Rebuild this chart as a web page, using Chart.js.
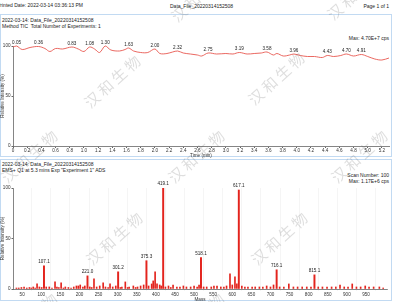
<!DOCTYPE html>
<html>
<head>
<meta charset='utf-8'>
<title>TIC and mass spectrum</title>
<script src="https://cdn.jsdelivr.net/npm/chart.js@4.4.1/dist/chart.umd.min.js"></script>
<style>
    body { margin:0; width:397px; height:302px; position:relative; overflow:hidden; background:#fff;
           font-family:"Liberation Sans", Arial, sans-serif; color:#222; }
    .t { position:absolute; font-size:5px; line-height:6px; white-space:nowrap; }
    .r { right:8px; text-align:right; }
    .panel { position:absolute; border:1px solid #c2daf2; box-sizing:border-box; }
    canvas { position:absolute; left:0; }
    .wm { position:absolute; font-family:"Noto Sans CJK SC"; font-size:15px; letter-spacing:3px;
          color:rgba(90,90,90,0.2); transform:translate(-50%,-50%) rotate(-42deg); white-space:nowrap; }
</style>
</head>
<body>
<div class="t" style="left:-3px;top:2px">Printed Date: 2022-03-14 03:36:13 PM</div>
<div class="t" style="left:170px;top:3px">Data_File_20220314152508</div>
<div class="t r" style="top:3px">Page 1 of 1</div>

<div class="panel" style="left:0;top:14px;width:392px;height:143px"></div>
<div class="t" style="left:2px;top:17px">2022-03-14: Data_File_20220314152508</div>
<div class="t" style="left:2px;top:23px">Method TIC&nbsp; Total Number of Experiments: 1</div>
<div class="t r" style="top:35px">Max: 4.70E+7 cps</div>
<canvas id="tic" width="392" height="130" style="top:28px"></canvas>

<div class="panel" style="left:0;top:159px;width:392px;height:142px"></div>
<div class="t" style="left:2px;top:161px">2022-03-14: Data_File_20220314152508</div>
<div class="t" style="left:2px;top:167px">EMS+ Q1 at 5.3 mins Exp "Experiment 1" ADS</div>
<div class="t r" style="top:172px">Scan Number: 100</div>
<div class="t r" style="top:178px">Max: 1.17E+6 cps</div>
<canvas id="ms" width="392" height="130" style="top:172px"></canvas>

<div id="marks"></div>
<script>
// TIC trace (time in min, relative intensity %)
const ticTimes = [0.00, 0.05, 0.13, 0.24, 0.36, 0.45, 0.52, 0.60, 0.70, 0.83, 0.92, 1.00, 1.08, 1.15, 1.22, 1.30,
    1.38, 1.50, 1.58, 1.63, 1.70, 1.80, 1.90, 2.00, 2.07, 2.17, 2.25, 2.32, 2.40, 2.50, 2.60, 2.66, 2.75,
    2.87, 3.00, 3.10, 3.19, 3.30, 3.40, 3.50, 3.58, 3.67, 3.72, 3.81, 3.90, 3.96, 4.05, 4.15, 4.25, 4.36,
    4.43, 4.52, 4.62, 4.70, 4.80, 4.91, 5.00, 5.10, 5.20, 5.30];
const ticValues = [99, 100, 96.5, 98.5, 99.5, 97.5, 94.5, 97.5, 97, 99, 97, 94.5, 99, 97, 93.5, 100,
    96, 95, 96.5, 98, 95, 93.5, 93.5, 97, 92.5, 92.5, 94, 95, 93, 92, 91, 90, 93,
    92, 92.5, 92, 93.5, 92, 92.5, 93, 94, 91, 92.5, 90, 91, 92, 90.5, 89.5, 89.5, 88.5,
    90.5, 89.5, 90.5, 92, 90, 91.5, 89.5, 87, 86, 88];
const ticPeaks = [0.05, 0.36, 0.83, 1.08, 1.30, 1.63, 2.00, 2.32, 2.75, 3.19, 3.58, 3.96, 4.43, 4.70, 4.91];
const timeTicks = [0, 0.2, 0.4, 0.6, 0.8, 1, 1.2, 1.4, 1.6, 1.8, 2, 2.2, 2.4, 2.6, 2.8, 3, 3.2, 3.4,
    3.6, 3.8, 4, 4.2, 4.4, 4.6, 4.8, 5, 5.2];

// mass spectrum: labelled peaks
const peakMz = [107.1, 221.0, 301.2, 375.3, 419.1, 518.1, 617.1, 716.1, 815.1];
const peakInt = [23, 13, 17, 28, 100, 31, 98, 19, 14];
// minor peaks
const minorMz = [35, 41, 48, 55, 62, 69, 74, 79, 84, 89, 95, 101, 113, 121, 128, 136, 141, 146, 152, 158, 163,
    171, 178, 185, 192, 197, 202, 209, 214, 227, 232, 238, 245, 253, 262, 268, 275, 280, 287, 295, 307, 311,
    320, 326, 330, 341, 347, 352, 360, 368, 381, 389, 393, 398, 403, 410, 414, 425, 433, 439, 445, 455, 463,
    472, 480, 491, 500, 508, 513, 525, 533, 545, 552, 560, 570, 578, 585, 594, 600, 607, 612, 625, 633, 641,
    652, 660, 671, 680, 690, 700, 708, 724, 735, 748, 760, 771, 783, 795, 806, 825, 836, 848, 860, 871, 882,
    893, 903, 914, 925, 936, 948, 958, 970, 985, 995];
const minorInt = [1, 1, 1.5, 2, 1, 1.5, 1, 2, 1, 5, 2, 1.5, 2, 2, 1, 7, 2, 1.5, 6, 1, 2,
    1.5, 1, 2, 3, 3, 4, 2, 3, 2, 1.5, 10, 2, 3, 6, 2, 1.5, 5, 2, 3, 1.5, 2,
    7, 1.5, 2, 3, 1.5, 2, 3, 4, 3, 5, 8, 17, 5, 4, 3, 2, 3, 1.5, 4, 2, 2,
    3, 2, 2, 3, 2, 4, 2, 2, 2, 3, 3, 2, 2, 3, 15, 4, 12, 5, 3, 2, 2,
    2, 2, 2, 2, 3, 2, 4, 2, 2, 5, 2, 2, 2, 2, 2, 2, 2, 2, 2, 2, 4,
    2, 2, 5, 2, 2, 3, 2, 2, 2, 1];
const mzTicks = [50, 100, 150, 200, 250, 300, 350, 400, 450, 500, 550, 600, 650, 700, 750, 800, 850, 900, 950];
const pctTicks = [0, 50, 100];

const FONT = {family: '"Liberation Sans", Arial, sans-serif', size: 4.6};
const RED_LINE = '#e8574f';
const RED_BAR = '#e3241d';

const pointLabels = {
    id: 'pointLabels',
    afterDatasetsDraw(chart, args, opts) {
        const {ctx, scales: {x, y}} = chart;
        ctx.save();
        ctx.font = FONT.size + 'px ' + FONT.family;
        ctx.fillStyle = '#222';
        ctx.textAlign = 'center';
        ctx.textBaseline = 'bottom';
        opts.points.forEach(p => {
            ctx.fillText(p.text, x.getPixelForValue(p.x), y.getPixelForValue(p.y) - opts.gap);
        });
        ctx.restore();
    }
};

function yScale() {
    return {
        min: 0, max: 100,
        afterBuildTicks: s => { s.ticks = pctTicks.map(v => ({value: v})); },
        afterFit: s => { s.width = 13; },
        ticks: {font: FONT, color: '#333', padding: 1},
        grid: {drawOnChartArea: false, tickLength: 1.5, color: '#666'},
        border: {color: '#666', width: 0.8},
        title: {display: true, text: 'Relative Intensity (%)', font: FONT, color: '#333', padding: 0}
    };
}

const ticLabels = ticPeaks.map(t => ({x: t, y: ticValues[ticTimes.indexOf(t)], text: t.toFixed(2)}));

new Chart(document.getElementById('tic'), {
    type: 'line',
    data: {
        datasets: [{
            data: ticTimes.map((t, i) => ({x: t, y: ticValues[i]})),
            borderColor: RED_LINE, borderWidth: 0.9, pointRadius: 0, tension: 0.35, clip: false
        }]
    },
    options: {
        responsive: false, animation: false, events: [],
        layout: {padding: {top: 18, right: 3, left: 0, bottom: 0}},
        plugins: {legend: {display: false}, tooltip: {enabled: false},
            pointLabels: {points: ticLabels, gap: 1}},
        scales: {
            x: {
                type: 'linear', min: 0, max: 5.3,
                afterBuildTicks: s => { s.ticks = timeTicks.map(v => ({value: v})); },
                afterFit: s => { s.height = 12; },
                ticks: {font: FONT, color: '#333', maxRotation: 0, autoSkip: false, padding: 0},
                grid: {drawOnChartArea: false, tickLength: 2, color: '#666'},
                border: {color: '#666', width: 0.8},
                title: {display: true, text: 'Time (min)', font: FONT, color: '#333', padding: 0}
            },
            y: yScale()
        }
    },
    plugins: [pointLabels]
});

new Chart(document.getElementById('ms'), {
    type: 'bar',
    data: {
        datasets: [
            {data: peakMz.map((m, i) => ({x: m, y: peakInt[i]})), backgroundColor: RED_BAR, barThickness: 1.3, grouped: false},
            {data: minorMz.map((m, i) => ({x: m, y: minorInt[i]})), backgroundColor: RED_BAR, barThickness: 1, grouped: false}
        ]
    },
    options: {
        responsive: false, animation: false, events: [],
        layout: {padding: {top: 16, right: 5, left: 0, bottom: 0}},
        plugins: {legend: {display: false}, tooltip: {enabled: false},
            pointLabels: {points: peakMz.map((m, i) => ({x: m, y: peakInt[i], text: m.toFixed(1)})), gap: 1.5}},
        scales: {
            x: {
                type: 'linear', min: 26, max: 1005, offset: false,
                afterBuildTicks: s => { s.ticks = mzTicks.map(v => ({value: v})); },
                afterFit: s => { s.height = 13; },
                ticks: {font: FONT, color: '#333', maxRotation: 0, autoSkip: false, padding: 1},
                grid: {color: '#eeeeee', lineWidth: 0.6, tickLength: 2},
                border: {color: '#666', width: 0.8},
                title: {display: true, text: 'Mass', font: FONT, color: '#333', padding: 0}
            },
            y: yScale()
        }
    },
    plugins: [pointLabels]
});

// watermark text tiles
const marks = [[113, 80], [277, 77], [115, 237], [280, 237], [30, 155], [197, 155], [360, 155],
    [200, -6], [356, -8], [30, 318], [197, 318]];
const box = document.getElementById('marks');
marks.forEach(([cx, cy]) => {
    const d = document.createElement('div');
    d.className = 'wm';
    d.style.left = cx + 'px';
    d.style.top = cy + 'px';
    d.textContent = '汉和生物';
    box.appendChild(d);
});
</script>
</body>
</html>
